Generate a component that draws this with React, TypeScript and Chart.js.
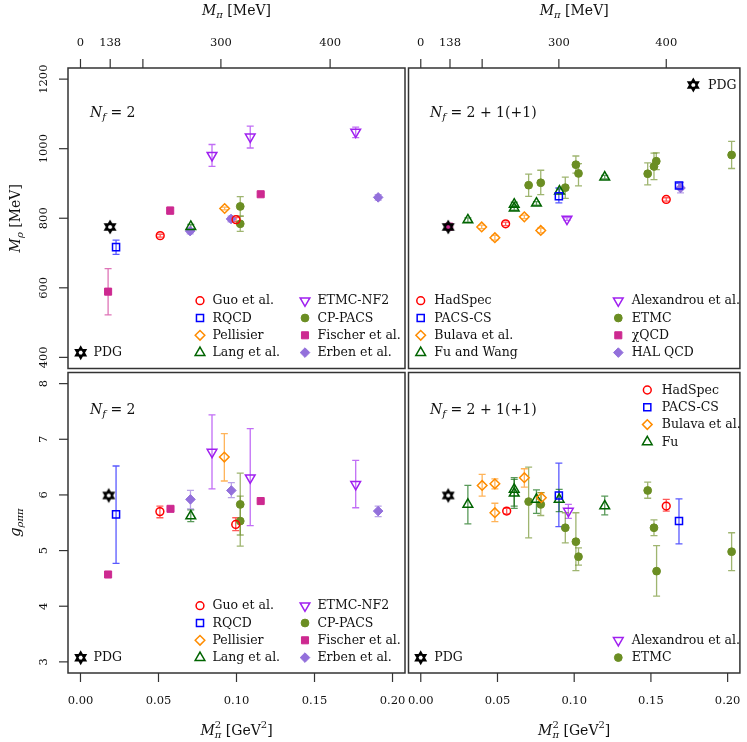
import React, { useEffect, useRef } from 'react';
import { Chart, registerables } from 'chart.js';

Chart.register(...registerables);

// Each point: [M_pi^2 (GeV^2), value, lower, upper]
type Pt = [number, number, number, number];

// ---------------- Top-left: M_rho, Nf = 2 ----------------
const tlPDG: Pt[] = [[0.019, 775, 775, 775]];
const tlGuo: Pt[] = [[0.0511, 750, 746, 754], [0.0997, 796, 790, 802]];
const tlRQCD: Pt[] = [[0.0228, 717, 696, 737]];
const tlPellisier: Pt[] = [[0.0924, 828, 824, 832]];
const tlLang: Pt[] = [[0.0707, 776, 770, 782]];
const tlETMCNF2: Pt[] = [[0.0843, 981, 949, 1012], [0.1088, 1034, 1002, 1065], [0.1764, 1048, 1032, 1062]];
const tlCPPACS: Pt[] = [[0.1024, 834, 806, 862], [0.1024, 784, 762, 806]];
const tlFischer: Pt[] = [[0.0177, 589, 522, 655], [0.0575, 822, 812, 832], [0.1155, 869, 865, 873]];
const tlErben: Pt[] = [[0.0703, 763, 755, 771], [0.0965, 798, 790, 806], [0.1908, 860, 852, 868]];

// ---------------- Top-right: M_rho, Nf = 2+1(+1) ----------------
const trPDG: Pt[] = [[0.0179, 775, 775, 775]];
const trHadSpec: Pt[] = [[0.0553, 784, 779, 789], [0.16, 854, 849, 859]];
const trPACSCS: Pt[] = [[0.09, 863, 844, 887], [0.1683, 894, 888, 900]];
const trBulava: Pt[] = [[0.0397, 775, 770, 780], [0.0483, 744, 737, 751], [0.0675, 804, 799, 809], [0.0782, 765, 758, 772]];
const trFuWang: Pt[] = [[0.0307, 795, 789, 801], [0.0609, 840, 834, 846], [0.0609, 829, 823, 835], [0.0754, 843, 838, 848], [0.0904, 878, 872, 884], [0.1199, 918, 913, 923]];
const trAlexandrou: Pt[] = [[0.0953, 798, 794, 802]];
const trETMC: Pt[] = [[0.0703, 895, 863, 927], [0.0782, 902, 868, 938], [0.0942, 888, 857, 918], [0.1011, 954, 930, 979], [0.1028, 929, 893, 957], [0.1479, 928, 896, 959], [0.152, 949, 911, 987], [0.1535, 964, 940, 988], [0.2026, 982, 943, 1021]];
const trChiQCD: Pt[] = [[0.0185, 776, 770, 782]];
const trHALQCD: Pt[] = [[0.1693, 887, 873, 903]];

// ---------------- Bottom-left: g_rhopipi, Nf = 2 ----------------
const blPDG: Pt[] = [[0.0181, 5.99, 5.99, 5.99]];
const blGuo: Pt[] = [[0.0509, 5.7, 5.59, 5.8], [0.0995, 5.47, 5.36, 5.59]];
const blRQCD: Pt[] = [[0.0228, 5.65, 4.77, 6.52]];
const blPellisier: Pt[] = [[0.0922, 6.68, 6.25, 7.1]];
const blLang: Pt[] = [[0.0707, 5.62, 5.52, 5.73]];
const blETMCNF2: Pt[] = [[0.0843, 6.77, 6.11, 7.44], [0.1088, 6.31, 5.45, 7.19], [0.1764, 6.19, 5.77, 6.62]];
const blCPPACS: Pt[] = [[0.1024, 5.83, 5.28, 6.39], [0.1024, 5.53, 5.08, 5.98]];
const blFischer: Pt[] = [[0.0177, 4.57, 4.57, 4.57], [0.0577, 5.75, 5.73, 5.77], [0.1155, 5.89, 5.87, 5.91]];
const blErben: Pt[] = [[0.0705, 5.92, 5.75, 6.08], [0.0967, 6.08, 5.95, 6.22], [0.1908, 5.71, 5.61, 5.8]];

// ---------------- Bottom-right: g_rhopipi, Nf = 2+1(+1) ----------------
const brPDG: Pt[] = [[0.0179, 5.99, 5.99, 5.99]];
const brHadSpec: Pt[] = [[0.056, 5.71, 5.66, 5.76], [0.16, 5.8, 5.71, 5.92]];
const brPACSCS: Pt[] = [[0.09, 5.99, 5.43, 6.57], [0.1683, 5.53, 5.12, 5.93]];
const brBulava: Pt[] = [[0.04, 6.17, 5.98, 6.37], [0.0483, 6.2, 6.11, 6.29], [0.0483, 5.68, 5.52, 5.85], [0.0675, 6.31, 6.14, 6.47], [0.0786, 5.95, 5.83, 6.04]];
const brFu: Pt[] = [[0.0307, 5.83, 5.48, 6.17], [0.0609, 6.1, 5.8, 6.31], [0.0609, 6.03, 5.76, 6.28], [0.0754, 5.92, 5.67, 6.09], [0.0902, 5.92, 5.7, 6.1], [0.1199, 5.8, 5.64, 5.98]];
const brAlexandrou: Pt[] = [[0.0962, 5.71, 5.58, 5.83]];
const brETMC: Pt[] = [[0.0703, 5.88, 5.23, 6.5], [0.0782, 5.83, 5.63, 6.04], [0.0942, 5.41, 5.14, 5.68], [0.1011, 5.16, 4.64, 5.68], [0.1028, 4.89, 4.74, 5.05], [0.1479, 6.08, 5.94, 6.23], [0.152, 5.41, 5.27, 5.55], [0.1537, 4.63, 4.18, 5.09], [0.2026, 4.98, 4.64, 5.32]];

// ---------------- Axis ticks ----------------
const mpiTicksMeV = [0, 138, 200, 300, 400];
const mpiTickLabels = ['0', '138', '', '300', '400'];
const msqTicks = [0, 0.05, 0.1, 0.15, 0.2];
const msqTickLabels = ['0.00', '0.05', '0.10', '0.15', '0.20'];
const mrhoTicks = [400, 600, 800, 1000, 1200];
const gTicks = [3, 4, 5, 6, 7, 8];

// ---------------- Styling ----------------
const FONT = '"DejaVu Serif", "Liberation Serif", serif';
const RED = '#FF0000', BLUE = '#0000FF', ORANGE = '#FF8C00', GREEN = '#006400', PURPLE = '#A020F0';
const OLIVE = '#6B8E23', MAGENTA = '#CD2990', MPURPLE = '#9370DB', BLACK = '#000000';

type Marker = 'circle' | 'rect' | 'rectRot' | 'triangle' | 'triangleDown' | 'hexagram';
type Series = { label: string; marker: Marker; color: string; filled: boolean; data: Pt[] };
const S = (label: string, marker: Marker, color: string, filled: boolean, data: Pt[]): Series => ({ label, marker, color, filled, data });

const RADIUS: Record<Marker, number> = { circle: 3.9, rect: 5, rectRot: 4.8, triangle: 5.6, triangleDown: 5.6, hexagram: 5.6 };

function alpha(hex: string, a: number) {
  const n = parseInt(hex.slice(1), 16);
  return `rgba(${(n >> 16) & 255},${(n >> 8) & 255},${n & 255},${a})`;
}

function triPath(ctx: CanvasRenderingContext2D, x: number, y: number, r: number, rot: number) {
  let rad = rot;
  ctx.moveTo(x + Math.sin(rad) * r, y - Math.cos(rad) * r);
  rad += (2 * Math.PI) / 3;
  ctx.lineTo(x + Math.sin(rad) * r, y - Math.cos(rad) * r);
  rad += (2 * Math.PI) / 3;
  ctx.lineTo(x + Math.sin(rad) * r, y - Math.cos(rad) * r);
  ctx.closePath();
}

function drawMarker(ctx: CanvasRenderingContext2D, m: Marker, color: string, filled: boolean, x: number, y: number) {
  const r = RADIUS[m];
  ctx.save();
  ctx.beginPath();
  if (m === 'circle') ctx.arc(x, y, r, 0, Math.PI * 2);
  else if (m === 'rect') { const s = r * Math.SQRT1_2; ctx.rect(x - s, y - s, 2 * s, 2 * s); }
  else if (m === 'rectRot') { ctx.moveTo(x - r, y); ctx.lineTo(x, y - r); ctx.lineTo(x + r, y); ctx.lineTo(x, y + r); ctx.closePath(); }
  else if (m === 'triangle') triPath(ctx, x, y, r, 0);
  else if (m === 'triangleDown') triPath(ctx, x, y, r, Math.PI);
  else { triPath(ctx, x, y, r, 0); triPath(ctx, x, y, r, Math.PI); }
  if (filled) { ctx.fillStyle = color; ctx.fill(); ctx.lineWidth = 1; } else ctx.lineWidth = m === 'hexagram' ? 1.9 : 1.5;
  ctx.strokeStyle = color;
  ctx.stroke();
  ctx.restore();
}

let hexImg: HTMLCanvasElement | null = null;
function hexagramImage() {
  if (hexImg) return hexImg;
  const c = document.createElement('canvas');
  c.width = 18; c.height = 18;
  const ctx = c.getContext('2d')!;
  drawMarker(ctx, 'hexagram', BLACK, false, 9, 9);
  hexImg = c;
  return c;
}

type Seg = { t: string; size: number; italic?: boolean; dy?: number; noAdvance?: boolean };
const segFont = (s: Seg) => `${s.italic ? 'italic ' : ''}${s.size}px ${FONT}`;

function drawRich(ctx: CanvasRenderingContext2D, segs: Seg[], x: number, y: number, align: 'left' | 'center', rotate = false) {
  ctx.save();
  ctx.translate(x, y);
  if (rotate) ctx.rotate(-Math.PI / 2);
  let w = 0;
  for (const s of segs) { ctx.font = segFont(s); if (!s.noAdvance) w += ctx.measureText(s.t).width; }
  let cx = align === 'center' ? -w / 2 : 0;
  ctx.textBaseline = 'middle';
  ctx.textAlign = 'left';
  ctx.fillStyle = '#111';
  for (const s of segs) {
    ctx.font = segFont(s);
    ctx.fillText(s.t, cx, s.dy || 0);
    if (!s.noAdvance) cx += ctx.measureText(s.t).width;
  }
  ctx.restore();
}

const nf2: Seg[] = [{ t: 'N', size: 14, italic: true }, { t: 'f', size: 10, italic: true, dy: 4 }, { t: ' = 2', size: 14 }];
const nf211: Seg[] = [{ t: 'N', size: 14, italic: true }, { t: 'f', size: 10, italic: true, dy: 4 }, { t: ' = 2 + 1(+1)', size: 14 }];
const topTitle: Seg[] = [{ t: 'M', size: 14, italic: true }, { t: 'π', size: 10, italic: true, dy: 4 }, { t: ' [MeV]', size: 14 }];
const bottomTitle: Seg[] = [{ t: 'M', size: 14, italic: true }, { t: '2', size: 10, dy: -6, noAdvance: true }, { t: 'π', size: 10, italic: true, dy: 4 }, { t: ' [GeV', size: 14 }, { t: '2', size: 10, dy: -6 }, { t: ']', size: 14 }];
const mrhoTitle: Seg[] = [{ t: 'M', size: 14, italic: true }, { t: 'ρ', size: 10, italic: true, dy: 4 }, { t: ' [MeV]', size: 14 }];
const gTitle: Seg[] = [{ t: 'g', size: 15, italic: true }, { t: 'ρππ', size: 10, italic: true, dy: 4 }];

type LegendBlock = { sx: number; tx: number; y0: number; items: number[] };
type PanelCfg = {
  id: string;
  pad: { left: number; top: number; right: number; bottom: number };
  yMin: number; yMax: number;
  series: Series[];
  top: boolean; bottom: boolean;
  left: null | { ticks: number[]; title: Seg[] };
  legend: LegendBlock[];
  nf: Seg[];
  nfY: number; nfX: number;
};

const X_MIN = -0.008, X_MAX = 0.208;
const ROW = 17.3;

const panels: PanelCfg[] = [
  {
    id: 'tl', pad: { left: 68, top: 68, right: 342, bottom: 373.5 }, yMin: 368, yMax: 1232,
    series: [
      S('PDG', 'hexagram', BLACK, false, tlPDG), S('Guo et al.', 'circle', RED, false, tlGuo), S('RQCD', 'rect', BLUE, false, tlRQCD),
      S('Pellisier', 'rectRot', ORANGE, false, tlPellisier), S('Lang et al.', 'triangle', GREEN, false, tlLang),
      S('ETMC-NF2', 'triangleDown', PURPLE, false, tlETMCNF2), S('CP-PACS', 'circle', OLIVE, true, tlCPPACS),
      S('Fischer et al.', 'rect', MAGENTA, true, tlFischer), S('Erben et al.', 'rectRot', MPURPLE, true, tlErben),
    ],
    top: true, bottom: false, left: { ticks: mrhoTicks, title: mrhoTitle },
    legend: [
      { sx: 200, tx: 212.5, y0: 300.7, items: [1, 2, 3, 4] },
      { sx: 305, tx: 317.5, y0: 300.7, items: [5, 6, 7, 8] },
      { sx: 80.7, tx: 93.5, y0: 352.7, items: [0] },
    ],
    nf: nf2, nfX: 90, nfY: 113.3,
  },
  {
    id: 'tr', pad: { left: 408.5, top: 68, right: 2, bottom: 373.5 }, yMin: 368, yMax: 1232,
    series: [
      S('PDG', 'hexagram', BLACK, false, trPDG), S('HadSpec', 'circle', RED, false, trHadSpec), S('PACS-CS', 'rect', BLUE, false, trPACSCS),
      S('Bulava et al.', 'rectRot', ORANGE, false, trBulava), S('Fu and Wang', 'triangle', GREEN, false, trFuWang),
      S('Alexandrou et al.', 'triangleDown', PURPLE, false, trAlexandrou), S('ETMC', 'circle', OLIVE, true, trETMC),
      S('χQCD', 'rect', MAGENTA, true, trChiQCD), S('HAL QCD', 'rectRot', MPURPLE, true, trHALQCD),
    ],
    top: true, bottom: false, left: null,
    legend: [
      { sx: 420.7, tx: 434.3, y0: 300.7, items: [1, 2, 3, 4] },
      { sx: 618.3, tx: 631.7, y0: 300.7, items: [5, 6, 7, 8] },
      { sx: 693.3, tx: 708, y0: 85, items: [0] },
    ],
    nf: nf211, nfX: 430, nfY: 113.3,
  },
  {
    id: 'bl', pad: { left: 68, top: 372.5, right: 342, bottom: 69 }, yMin: 2.8, yMax: 8.2,
    series: [
      S('PDG', 'hexagram', BLACK, false, blPDG), S('Guo et al.', 'circle', RED, false, blGuo), S('RQCD', 'rect', BLUE, false, blRQCD),
      S('Pellisier', 'rectRot', ORANGE, false, blPellisier), S('Lang et al.', 'triangle', GREEN, false, blLang),
      S('ETMC-NF2', 'triangleDown', PURPLE, false, blETMCNF2), S('CP-PACS', 'circle', OLIVE, true, blCPPACS),
      S('Fischer et al.', 'rect', MAGENTA, true, blFischer), S('Erben et al.', 'rectRot', MPURPLE, true, blErben),
    ],
    top: false, bottom: true, left: { ticks: gTicks, title: gTitle },
    legend: [
      { sx: 200, tx: 212.5, y0: 605.7, items: [1, 2, 3, 4] },
      { sx: 305, tx: 317.5, y0: 605.7, items: [5, 6, 7, 8] },
      { sx: 80.7, tx: 93.5, y0: 657.7, items: [0] },
    ],
    nf: nf2, nfX: 90, nfY: 410.7,
  },
  {
    id: 'br', pad: { left: 408.5, top: 372.5, right: 2, bottom: 69 }, yMin: 2.8, yMax: 8.2,
    series: [
      S('PDG', 'hexagram', BLACK, false, brPDG), S('HadSpec', 'circle', RED, false, brHadSpec), S('PACS-CS', 'rect', BLUE, false, brPACSCS),
      S('Bulava et al.', 'rectRot', ORANGE, false, brBulava), S('Fu', 'triangle', GREEN, false, brFu),
      S('Alexandrou et al.', 'triangleDown', PURPLE, false, brAlexandrou), S('ETMC', 'circle', OLIVE, true, brETMC),
    ],
    top: false, bottom: true, left: null,
    legend: [
      { sx: 647.3, tx: 661.7, y0: 390, items: [1, 2, 3, 4] },
      { sx: 618.3, tx: 631.7, y0: 640.3, items: [5, 6] },
      { sx: 420.7, tx: 434.3, y0: 657.7, items: [0] },
    ],
    nf: nf211, nfX: 430, nfY: 410.7,
  },
];

function makePlugin(p: PanelCfg) {
  return {
    id: 'panel_' + p.id,
    beforeDatasetsDraw(chart: any) {
      const ctx: CanvasRenderingContext2D = chart.ctx;
      const xs = chart.scales.x, ys = chart.scales.y;
      chart.data.datasets.forEach((ds: any) => {
        ctx.save();
        ctx.strokeStyle = ds.errColor;
        ctx.lineWidth = 1.3;
        for (const d of ds.data) {
          if (d.lo === d.hi) continue;
          const x = xs.getPixelForValue(d.x);
          const y1 = ys.getPixelForValue(d.lo), y2 = ys.getPixelForValue(d.hi);
          ctx.beginPath();
          ctx.moveTo(x, y1); ctx.lineTo(x, y2);
          ctx.moveTo(x - 3.5, y1); ctx.lineTo(x + 3.5, y1);
          ctx.moveTo(x - 3.5, y2); ctx.lineTo(x + 3.5, y2);
          ctx.stroke();
        }
        ctx.restore();
      });
    },
    afterDraw(chart: any) {
      const ctx: CanvasRenderingContext2D = chart.ctx;
      const a = chart.chartArea;
      const xs = chart.scales.x, ys = chart.scales.y;
      ctx.save();
      ctx.strokeStyle = '#333';
      ctx.lineWidth = 1.5;
      ctx.strokeRect(a.left, a.top, a.right - a.left, a.bottom - a.top);
      ctx.lineWidth = 1.2;
      ctx.fillStyle = '#111';
      ctx.font = `11.5px ${FONT}`;
      ctx.textAlign = 'center';
      ctx.textBaseline = 'middle';
      const cxMid = (a.left + a.right) / 2;
      if (p.top) {
        mpiTicksMeV.forEach((m, i) => {
          const px = xs.getPixelForValue((m / 1000) ** 2);
          ctx.beginPath(); ctx.moveTo(px, a.top); ctx.lineTo(px, a.top - 9); ctx.stroke();
          if (mpiTickLabels[i]) ctx.fillText(mpiTickLabels[i], px, a.top - 25);
        });
        drawRich(ctx, topTitle, cxMid, a.top - 57, 'center');
      }
      if (p.bottom) {
        ctx.font = `11.5px ${FONT}`;
        msqTicks.forEach((v, i) => {
          const px = xs.getPixelForValue(v);
          ctx.beginPath(); ctx.moveTo(px, a.bottom); ctx.lineTo(px, a.bottom + 9); ctx.stroke();
          ctx.fillText(msqTickLabels[i], px, a.bottom + 28);
        });
        drawRich(ctx, bottomTitle, cxMid, a.bottom + 58, 'center');
      }
      if (p.left) {
        p.left.ticks.forEach((v) => {
          const py = ys.getPixelForValue(v);
          ctx.beginPath(); ctx.moveTo(a.left, py); ctx.lineTo(a.left - 9, py); ctx.stroke();
          ctx.save();
          ctx.translate(a.left - 24, py);
          ctx.rotate(-Math.PI / 2);
          ctx.font = `11.5px ${FONT}`;
          ctx.fillStyle = '#111';
          ctx.textAlign = 'center';
          ctx.textBaseline = 'middle';
          ctx.fillText(String(v), 0, 0);
          ctx.restore();
        });
        drawRich(ctx, p.left.title, a.left - 52, (a.top + a.bottom) / 2, 'center', true);
      }
      // legend
      for (const b of p.legend) {
        b.items.forEach((idx, k) => {
          const s = p.series[idx];
          const y = b.y0 + k * ROW;
          drawMarker(ctx, s.marker, s.color, s.filled, b.sx, y);
          ctx.font = `12.5px ${FONT}`;
          ctx.fillStyle = '#111';
          ctx.textAlign = 'left';
          ctx.textBaseline = 'middle';
          ctx.fillText(s.label, b.tx, y + 0.5);
        });
      }
      drawRich(ctx, p.nf, p.nfX, p.nfY, 'left');
      ctx.restore();
    },
  };
}

function Panel({ p }: { p: PanelCfg }) {
  const ref = useRef<HTMLCanvasElement>(null);
  useEffect(() => {
    const datasets = p.series.map((s) => ({
      label: s.label,
      data: s.data.map((d) => ({ x: d[0], y: d[1], lo: d[2], hi: d[3] })),
      pointStyle: s.marker === 'hexagram' ? hexagramImage() : s.marker === 'triangleDown' ? 'triangle' : s.marker,
      pointRotation: s.marker === 'triangleDown' ? 180 : 0,
      pointRadius: RADIUS[s.marker],
      pointBorderWidth: s.filled ? 1 : 1.5,
      pointBorderColor: s.color,
      pointBackgroundColor: s.filled ? s.color : 'rgba(0,0,0,0)',
      showLine: false,
      errColor: alpha(s.color, 0.65),
    }));
    const chart = new Chart(ref.current!, {
      type: 'scatter',
      data: { datasets } as any,
      options: {
        responsive: false,
        animation: false,
        devicePixelRatio: 1,
        events: [],
        layout: { padding: p.pad },
        scales: {
          x: { type: 'linear', min: X_MIN, max: X_MAX, display: false },
          y: { type: 'linear', min: p.yMin, max: p.yMax, display: false },
        },
        plugins: { legend: { display: false }, tooltip: { enabled: false } },
      },
      plugins: [makePlugin(p)],
    });
    return () => chart.destroy();
  }, []);
  return <canvas ref={ref} width={747} height={742} style={{ position: 'absolute', left: 0, top: 0 }} />;
}

export default function App() {
  return (
    <div style={{ position: 'absolute', left: 0, top: 0, width: 747, height: 742, background: '#fff' }}>
      {panels.map((p) => <Panel key={p.id} p={p} />)}
    </div>
  );
}
